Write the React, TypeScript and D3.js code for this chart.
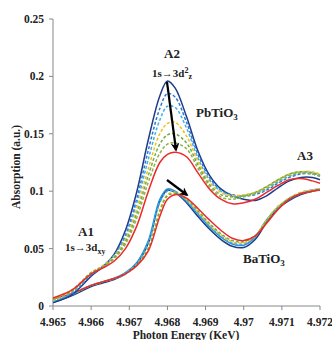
import React from "react";
import * as d3 from "d3";

const energy = [4.965, 4.9655, 4.966, 4.9663, 4.9666, 4.9669, 4.9672, 4.9675, 4.9678, 4.968, 4.9682, 4.9685, 4.9688, 4.9691, 4.9694, 4.9697, 4.97, 4.9703, 4.9706, 4.9709, 4.9712, 4.9715, 4.9718, 4.972];

// PbTiO3 series
const pbNavy = [0.003, 0.010, 0.026, 0.034, 0.045, 0.066, 0.100, 0.145, 0.183, 0.196, 0.190, 0.165, 0.135, 0.114, 0.102, 0.096, 0.093, 0.092, 0.096, 0.103, 0.109, 0.112, 0.112, 0.110];
const pbBlue = [0.004, 0.011, 0.027, 0.034, 0.044, 0.062, 0.094, 0.136, 0.172, 0.185, 0.182, 0.160, 0.132, 0.112, 0.101, 0.097, 0.096, 0.097, 0.101, 0.107, 0.112, 0.115, 0.115, 0.113];
const pbLightBlue = [0.004, 0.012, 0.028, 0.035, 0.044, 0.060, 0.090, 0.128, 0.162, 0.174, 0.173, 0.155, 0.129, 0.110, 0.100, 0.096, 0.096, 0.098, 0.102, 0.108, 0.113, 0.116, 0.116, 0.114];
const pbYellow = [0.005, 0.013, 0.029, 0.035, 0.043, 0.058, 0.085, 0.120, 0.150, 0.159, 0.160, 0.148, 0.126, 0.108, 0.099, 0.096, 0.097, 0.099, 0.104, 0.110, 0.115, 0.117, 0.117, 0.115];
const pbGreen = [0.006, 0.013, 0.029, 0.034, 0.042, 0.056, 0.081, 0.114, 0.141, 0.149, 0.150, 0.142, 0.123, 0.106, 0.097, 0.095, 0.096, 0.099, 0.104, 0.110, 0.115, 0.117, 0.116, 0.114];
const pbOlive = [0.006, 0.014, 0.029, 0.034, 0.041, 0.054, 0.077, 0.108, 0.133, 0.141, 0.142, 0.137, 0.120, 0.104, 0.095, 0.093, 0.095, 0.098, 0.103, 0.109, 0.114, 0.116, 0.115, 0.113];
const pbRed = [0.007, 0.014, 0.028, 0.033, 0.039, 0.050, 0.070, 0.100, 0.125, 0.132, 0.134, 0.130, 0.116, 0.102, 0.093, 0.089, 0.090, 0.093, 0.099, 0.105, 0.110, 0.111, 0.109, 0.107];

// BaTiO3 series
const baNavy = [0.003, 0.009, 0.017, 0.020, 0.023, 0.028, 0.037, 0.055, 0.091, 0.101, 0.099, 0.090, 0.078, 0.067, 0.058, 0.052, 0.051, 0.058, 0.073, 0.085, 0.092, 0.097, 0.100, 0.101];
const baBlue = [0.003, 0.010, 0.018, 0.021, 0.024, 0.029, 0.038, 0.057, 0.093, 0.102, 0.100, 0.091, 0.080, 0.069, 0.060, 0.054, 0.053, 0.060, 0.075, 0.086, 0.093, 0.098, 0.101, 0.102];
const baLightBlue = [0.004, 0.010, 0.018, 0.021, 0.024, 0.029, 0.037, 0.055, 0.090, 0.100, 0.100, 0.092, 0.081, 0.070, 0.061, 0.055, 0.054, 0.061, 0.075, 0.086, 0.094, 0.099, 0.101, 0.102];
const baYellow = [0.005, 0.011, 0.018, 0.021, 0.024, 0.028, 0.036, 0.051, 0.084, 0.097, 0.099, 0.093, 0.082, 0.071, 0.062, 0.056, 0.055, 0.061, 0.075, 0.087, 0.094, 0.099, 0.101, 0.102];
const baGreen = [0.005, 0.011, 0.018, 0.021, 0.024, 0.028, 0.036, 0.050, 0.082, 0.096, 0.098, 0.093, 0.083, 0.072, 0.063, 0.057, 0.056, 0.061, 0.074, 0.086, 0.094, 0.098, 0.100, 0.101];
const baRed = [0.006, 0.011, 0.018, 0.021, 0.024, 0.028, 0.035, 0.048, 0.078, 0.093, 0.097, 0.094, 0.085, 0.075, 0.066, 0.059, 0.057, 0.061, 0.072, 0.084, 0.093, 0.098, 0.100, 0.101];

const xTicks = [4.965, 4.966, 4.967, 4.968, 4.969, 4.97, 4.971, 4.972];
const xTickLabels = ["4.965", "4.966", "4.967", "4.968", "4.969", "4.97", "4.971", "4.972"];
const yTicks = [0, 0.05, 0.1, 0.15, 0.2, 0.25];
const yTickLabels = ["0", "0.05", "0.1", "0.15", "0.2", "0.25"];

type S = { values: number[]; color: string; dash?: string };
const seriesList: S[] = [
  { values: baNavy, color: "#1f3c88" },
  { values: baBlue, color: "#2b8fd8" },
  { values: baLightBlue, color: "#3fb0e8", dash: "3,2" },
  { values: baYellow, color: "#f2c01e", dash: "3,2" },
  { values: baGreen, color: "#6fae45", dash: "3,2" },
  { values: baRed, color: "#ec2a2a" },
  { values: pbNavy, color: "#1f3c88" },
  { values: pbBlue, color: "#2e78d2", dash: "3,2" },
  { values: pbLightBlue, color: "#3fb0e8", dash: "3,2" },
  { values: pbYellow, color: "#f2c01e", dash: "3,2" },
  { values: pbGreen, color: "#6fae45", dash: "3,2" },
  { values: pbOlive, color: "#93b04a", dash: "3,2" },
  { values: pbRed, color: "#ec2a2a" },
];

const font = "'Liberation Serif', 'Times New Roman', serif";

export default function App() {
  const x = d3.scaleLinear().domain([4.965, 4.972]).range([53, 320]);
  const y = d3.scaleLinear().domain([0, 0.25]).range([306, 19]);
  const line = d3
    .line<number>()
    .x((_, i) => x(energy[i]))
    .y((d) => y(d))
    .curve(d3.curveCatmullRom.alpha(0.5));

  return (
    <svg width={332} height={340} style={{ position: "absolute", left: 0, top: 0, background: "#fff" }} fontFamily={font}>
      <defs>
        <marker id="ah" viewBox="0 0 10 10" refX="8" refY="5" markerWidth="4" markerHeight="4" orient="auto">
          <path d="M0,0 L10,5 L0,10 L3,5 Z" fill="#000" />
        </marker>
      </defs>
      {/* axes */}
      <line x1={53} x2={53} y1={y(0.25)} y2={y(0)} stroke="#888" strokeWidth={1} />
      <line x1={53} x2={320} y1={y(0)} y2={y(0)} stroke="#888" strokeWidth={1} />
      {yTicks.map((t, i) => (
        <g key={"y" + i}>
          <line x1={49} x2={53} y1={y(t)} y2={y(t)} stroke="#888" />
          <text x={44} y={y(t) + 4} textAnchor="end" fontSize={11.5} fontWeight="bold" fill="#222">
            {yTickLabels[i]}
          </text>
        </g>
      ))}
      {xTicks.map((t, i) => (
        <g key={"x" + i}>
          <line x1={x(t)} x2={x(t)} y1={306} y2={310} stroke="#888" />
          <text x={x(t)} y={326} textAnchor="middle" fontSize={11.5} fontWeight="bold" fill="#222">
            {xTickLabels[i]}
          </text>
        </g>
      ))}
      <text x={186} y={339} textAnchor="middle" fontSize={11.5} fontWeight="bold" fill="#222">
        Photon Energy (KeV)
      </text>
      <text transform="translate(20,167) rotate(-90)" textAnchor="middle" fontSize={11.5} fontWeight="bold" fill="#222">
        Absorption (a.u.)
      </text>

      {/* curves */}
      {seriesList.map((s, i) => (
        <path key={i} d={line(s.values) || ""} fill="none" stroke={s.color} strokeWidth={1.5} strokeDasharray={s.dash} />
      ))}

      {/* arrows */}
      <line x1={167} y1={82} x2={176} y2={150} stroke="#000" strokeWidth={2.2} markerEnd="url(#ah)" />
      <line x1={167} y1={180} x2={187} y2={195} stroke="#000" strokeWidth={2.2} markerEnd="url(#ah)" />

      {/* annotations */}
      <text x={172} y={58} textAnchor="middle" fontSize={13} fontWeight="bold" fill="#222">A2</text>
      <text x={172} y={77} textAnchor="middle" fontSize={11} fontWeight="bold" fill="#222">
        1s→3d<tspan dy={-4} fontSize={8}>2</tspan><tspan dx={0} dy={6} fontSize={8}>z</tspan>
      </text>
      <text x={196} y={117} fontSize={13} fontWeight="bold" fill="#222">
        PbTiO<tspan dy={3} fontSize={9}>3</tspan>
      </text>
      <text x={297} y={160} fontSize={13} fontWeight="bold" fill="#222">A3</text>
      <text x={78} y={236} fontSize={13} fontWeight="bold" fill="#222">A1</text>
      <text x={65} y={251} fontSize={11} fontWeight="bold" fill="#222">
        1s→3d<tspan dy={3} fontSize={8}>xy</tspan>
      </text>
      <text x={243} y={263} fontSize={13} fontWeight="bold" fill="#222">
        BaTiO<tspan dy={3} fontSize={9}>3</tspan>
      </text>
    </svg>
  );
}
